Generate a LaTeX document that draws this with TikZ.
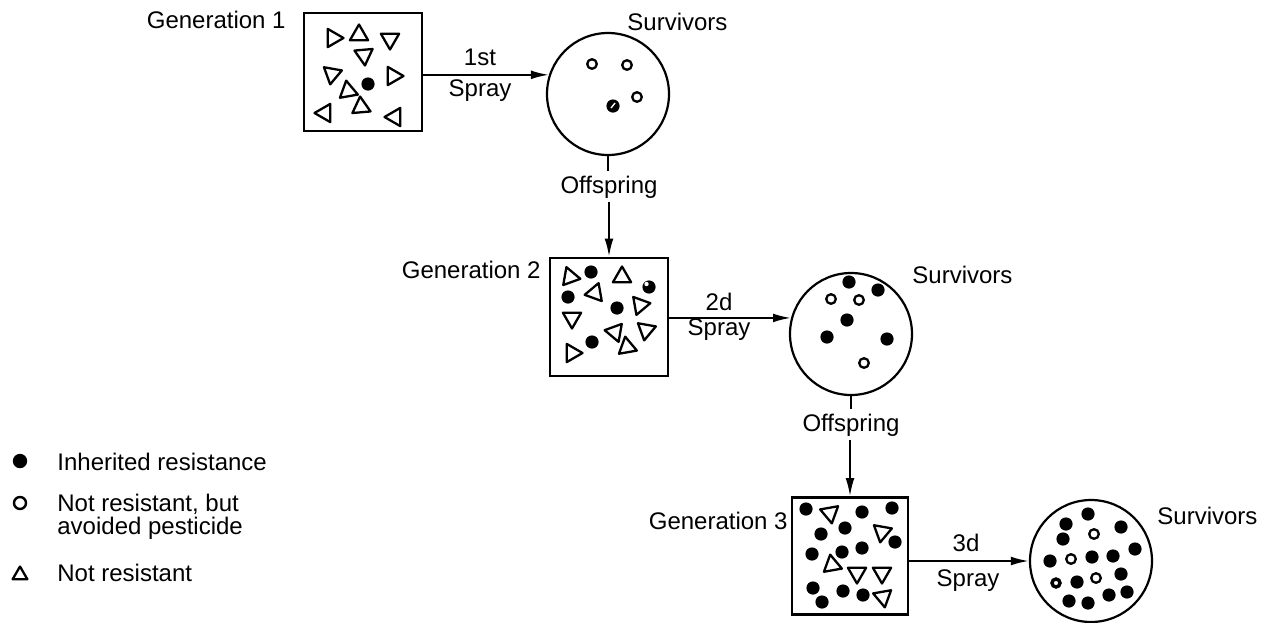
\documentclass[tikz,border=0pt]{standalone}
\usepackage{fontspec}
\setmainfont{Liberation Sans}
\usetikzlibrary{arrows.meta}
\newcommand\trimk[3]{\draw[mk,shift={(#1,#2)}] (#3:10.5) -- (#3+120:10.5) -- (#3+240:10.5) -- cycle;}
\newcommand\fulldot[2]{\fill (#1,#2) circle (3.3pt);}
\newcommand\opendot[2]{\draw[mk] (#1,#2) circle (2.4pt);}
\begin{document}
\begin{tikzpicture}[x=0.5pt,y=-0.5pt,
  every node/.style={font=\fontsize{12}{14}\selectfont, inner sep=0pt},
  box/.style={draw, line width=1.3pt, minimum width=59pt, minimum height=59pt},
  surv/.style={draw, circle, line width=1.1pt, minimum size=61pt},
  conn/.style={line width=1pt},
  arr/.style={conn, -{Latex[length=9pt,width=4.4pt]}},
  mk/.style={line width=1.15pt, line join=round},
  lbl/.style={inner ysep=2pt}
]
\useasboundingbox (0,0) rectangle (1264,622);

% main shapes
\node[box]  (g1) at (363,72)  {};
\node[surv] (s1) at (608,94)  {};
\node[box]  (g2) at (609,317) {};
\node[surv] (s2) at (851,334) {};
\node[box,minimum width=58pt,minimum height=58.5pt] (g3) at (850,556) {};
\node[surv] (s3) at (1091,561) {};

% titles
\node[anchor=base east] (t1) at (286,28) {Generation 1};
\node[anchor=base west] (v1) at (627,30) {Survivors};
\node[anchor=base east] (t2) at (541,278) {Generation 2};
\node[anchor=base west] (v2) at (912,283) {Survivors};
\node[anchor=base east] (t3) at (788,529) {Generation 3};
\node[anchor=base west] (v3) at (1157,524) {Survivors};

% spray arrows
\node[anchor=base] (a1) at (480,65) {1st};
\node[anchor=base] (b1) at (480,96) {Spray};
\draw[arr] (g1.east |- s1.162) -- (s1.162);
\node[anchor=base] (a2) at (719,310) {2d};
\node[anchor=base] (b2) at (719,335) {Spray};
\draw[arr] (g2.east |- s2.165) -- (s2.165);
\node[anchor=base] (a3) at (966,551) {3d};
\node[anchor=base] (b3) at (968,586) {Spray};
\draw[arr] (g3.east |- s3.west) -- (s3.west);

% offspring
\node[anchor=base,lbl] (o1) at (609,193) {Offspring};
\draw[conn] (s1.south) -- (s1.south |- o1.north);
\draw[arr] (o1.south -| g2.north) -- (g2.north);
\node[anchor=base,lbl] (o2) at (851,431) {Offspring};
\draw[conn] (s2.south) -- (s2.south |- o2.north);
\draw[arr] (o2.south -| g3.north) -- (g3.north);

% generation 1 contents
\trimk{333}{38}{0}
\trimk{359}{35}{-90}
\trimk{390}{39}{90}
\trimk{364}{55}{85}
\trimk{332}{74}{100}
\trimk{393}{76}{0}
\trimk{348}{91}{20}
\trimk{325}{113}{180}
\trimk{361}{107}{-95}
\trimk{395}{117}{180}
\fulldot{368}{84}

% survivors 1
\opendot{592}{64}
\opendot{627}{65}
\opendot{637}{97}
\fulldot{613}{106}
\draw[white,line width=0.7pt] (611,108) -- (615,103);

% generation 2 contents
\trimk{570}{277}{-110}
\fulldot{591}{272}
\trimk{622}{277}{-90}
\fulldot{649}{287}
\fill[white] (646.5,284) circle (1.1pt);
\fulldot{568}{297}
\trimk{595}{293}{170}
\fulldot{617}{308}
\trimk{640}{305}{-10}
\trimk{572}{318}{90}
\trimk{615}{332}{70}
\trimk{646}{330}{100}
\trimk{627}{347}{-100}
\fulldot{592}{342}
\trimk{572}{353}{0}

% survivors 2
\fulldot{849}{282}
\fulldot{878}{290}
\opendot{831}{299}
\opendot{859}{300}
\fulldot{847}{320}
\fulldot{827}{337}
\fulldot{887}{339}
\opendot{864}{363}

% generation 3 contents
\fulldot{806}{509}
\trimk{830}{513}{80}
\fulldot{862}{512}
\fulldot{892}{508}
\fulldot{845}{528}
\fulldot{821}{534}
\trimk{882}{532}{100}
\fulldot{895}{542}
\fulldot{862}{548}
\fulldot{842}{552}
\fulldot{812}{554}
\trimk{832}{565}{20}
\trimk{857}{573}{90}
\trimk{882}{573}{-30}
\fulldot{813}{588}
\fulldot{843}{591}
\fulldot{863}{595}
\fulldot{822}{602}
\trimk{883}{597}{200}

% survivors 3
\fulldot{1088}{514}
\fulldot{1066}{524}
\fulldot{1121}{527}
\fulldot{1063}{539}
\fulldot{1135}{549}
\fulldot{1050}{561}
\fulldot{1092}{557}
\fulldot{1113}{556}
\fulldot{1077}{582}
\fulldot{1121}{574}
\fulldot{1069}{601}
\fulldot{1088}{603}
\fulldot{1109}{595}
\fulldot{1127}{592}
\opendot{1094}{534}
\opendot{1071}{559}
\opendot{1096}{578}
\draw[line width=1.7pt] (1056,583) circle (2pt);

% legend
\fill (20,461) circle (3.6pt);
\node[anchor=base west] (k1) at (57,470) {Inherited resistance};
\draw[line width=1.2pt] (20,503) circle (3pt);
\node[anchor=base west] (k2) at (57,511) {Not resistant, but};
\node[anchor=base west] (k3) at (57,534) {avoided pesticide};
\draw[mk,shift={(20,575)}] (-90:8.5) -- (30:8.5) -- (150:8.5) -- cycle;
\node[anchor=base west] (k4) at (57,581) {Not resistant};
\end{tikzpicture}
\end{document}
